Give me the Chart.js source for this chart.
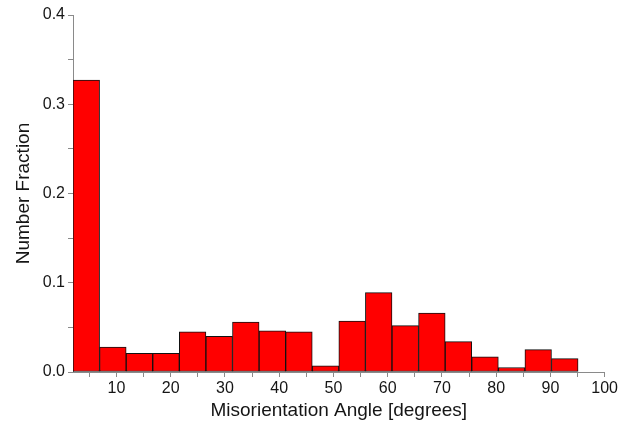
<!DOCTYPE html>
<html>
<head>
<meta charset="utf-8">
<script src="https://cdn.jsdelivr.net/npm/chart.js@4/dist/chart.umd.min.js"></script>
<style>
  html, body { margin: 0; padding: 0; background: #fff; }
  #wrap { width: 620px; height: 430px; position: relative; }
</style>
</head>
<body>
<div id="wrap"><canvas id="chart"></canvas></div>
<script>
// bin edges in degrees (19 bins)
const binEdges = [2, 6.9, 11.8, 16.7, 21.6, 26.5, 31.4, 36.3, 41.2, 46.1, 51.0,
                  55.9, 60.8, 65.7, 70.6, 75.5, 80.4, 85.3, 90.2, 95.1];
// number fraction per bin
const fractions = [0.327, 0.028, 0.021, 0.021, 0.045, 0.040, 0.056, 0.046, 0.045, 0.007,
                   0.057, 0.089, 0.052, 0.066, 0.034, 0.017, 0.005, 0.025, 0.015];
const xTickStep = 5;
const yTickStep = 0.05;

const points = fractions.map((v, i) => ({ x: (binEdges[i] + binEdges[i + 1]) / 2, y: v }));

const textColor = '#151515';
const axisColor = '#8a8a8a';
const fontFamily = 'Liberation Sans, Arial, sans-serif';

new Chart(document.getElementById('chart'), {
    type: 'bar',
    data: {
        datasets: [{
            data: points,
            backgroundColor: '#ff0000',
            borderColor: '#111111',
            borderWidth: 1,
            borderSkipped: false,
            barPercentage: 1,
            categoryPercentage: 1
        }]
    },
    options: {
        responsive: true,
        maintainAspectRatio: false,
        animation: false,
        layout: { padding: { left: 0, top: 15, right: 14, bottom: 0 } },
        plugins: { legend: { display: false }, tooltip: { enabled: false } },
        scales: {
            x: {
                type: 'linear',
                offset: false,
                min: binEdges[0],
                max: 100,
                afterBuildTicks: scale => {
                    scale.ticks = scale.ticks.filter(t => t.value % xTickStep === 0);
                },
                afterFit: scale => { scale.height = 58; },
                ticks: {
                    stepSize: xTickStep,
                    autoSkip: false,
                    maxRotation: 0,
                    padding: 2,
                    color: textColor,
                    font: { family: fontFamily, size: 16 },
                    callback: v => (v % 10 === 0 ? String(v) : '')
                },
                grid: {
                    display: true,
                    offset: false,
                    drawOnChartArea: false,
                    drawTicks: true,
                    tickLength: 5,
                    color: axisColor
                },
                border: { display: true, color: axisColor, width: 1 },
                title: {
                    display: true,
                    text: 'Misorientation Angle [degrees]',
                    color: textColor,
                    font: { family: fontFamily, size: 19 },
                    padding: { top: 0, bottom: 8 }
                }
            },
            y: {
                min: 0,
                max: 0.4,
                afterFit: scale => { scale.width = 73; },
                ticks: {
                    stepSize: yTickStep,
                    autoSkip: false,
                    padding: 3,
                    color: textColor,
                    font: { family: fontFamily, size: 16 },
                    callback: v => (Math.round(v * 100) % 10 === 0 ? v.toFixed(1) : '')
                },
                grid: {
                    display: true,
                    drawOnChartArea: false,
                    drawTicks: true,
                    tickLength: 5,
                    color: axisColor
                },
                border: { display: true, color: axisColor, width: 1 },
                title: {
                    display: true,
                    text: 'Number Fraction',
                    color: textColor,
                    font: { family: fontFamily, size: 19 },
                    padding: { top: 12, bottom: 0 }
                }
            }
        }
    }
});
</script>
</body>
</html>
